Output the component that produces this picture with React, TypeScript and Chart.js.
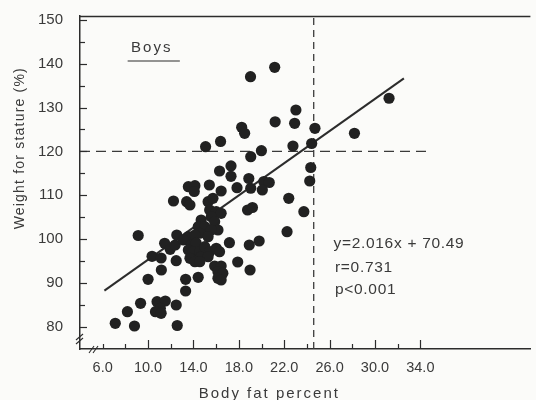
import React, { useEffect, useRef } from 'react';
import { Chart, registerables } from 'chart.js';

Chart.register(...registerables);

// ---- data ----
const bodyFat = [
  7.11, 8.18, 8.8, 9.34, 9.13, 10.0, 10.35, 11.15, 11.17, 11.46,
  11.95, 12.39, 12.53, 12.48, 10.79, 11.52, 11.08, 10.65, 11.15, 12.48,
  12.57, 12.24, 13.31, 13.31, 14.42, 13.4, 13.69, 13.55, 14.13, 14.07,
  15.4, 16.44, 17.84, 19.05, 15.29, 15.72, 15.43, 16.01, 16.44, 18.77,
  19.2, 14.68, 14.42, 15.0, 14.56, 15.57, 15.87, 16.16, 15.57, 15.29,
  13.55, 14.13, 13.11, 13.81, 14.24, 13.55, 13.98, 14.56, 14.68, 15.0,
  15.43, 15.29, 16.01, 16.3, 17.17, 18.92, 19.79, 13.69, 14.13, 14.56,
  15.87, 16.44, 16.16, 16.59, 16.16, 16.44, 17.9, 18.99, 15.07, 16.39,
  17.31, 16.3, 17.31, 18.88, 19.05, 18.25, 18.51, 19.03, 21.16, 21.2,
  19.99, 20.2, 20.68, 20.07, 22.4, 23.73, 22.25, 23.03, 22.92, 24.71,
  28.19, 31.24, 22.77, 24.42, 24.34, 24.25,
];
const weightForStature = [
  80.85, 83.5, 80.24, 85.41, 100.85, 90.88, 96.12, 95.73, 93.0, 99.08,
  97.71, 98.69, 100.97, 95.11, 85.77, 85.93, 84.27, 83.5, 83.13, 85.02,
  80.35, 108.71, 90.88, 88.21, 91.33, 108.55, 107.8, 111.97, 112.2, 110.88,
  112.36, 110.99, 111.74, 111.61, 108.55, 109.33, 106.66, 106.28, 105.91, 106.66,
  107.23, 104.38, 102.86, 102.86, 101.36, 105.14, 104.0, 102.11, 102.11, 100.58,
  100.58, 100.97, 99.83, 98.69, 99.15, 97.55, 97.16, 97.16, 96.03, 98.3,
  97.16, 96.03, 97.94, 97.16, 99.21, 98.69, 99.6, 95.66, 94.89, 94.89,
  93.91, 93.91, 92.61, 92.24, 91.1, 90.72, 94.82, 93.0, 121.08, 122.27,
  116.69, 115.55, 114.34, 113.84, 118.8, 125.5, 124.13, 137.03, 139.17, 126.75,
  120.17, 113.15, 112.93, 111.22, 109.33, 106.28, 101.72, 129.44, 126.41, 125.27,
  124.13, 132.11, 121.24, 121.81, 116.34, 113.27,
];
const fitLineFat = [6.15, 32.55];
const fitLineWeight = [88.3, 136.65];
const cutoffWeight = 120;
const cutoffWeightSpan = [4, 35.0];
const cutoffFat = 24.6;
const xTickValues = [6, 10, 14, 18, 22, 26, 30, 34];
const yTickValues = [80, 90, 100, 110, 120, 130, 140, 150];
const xTitle = 'Body fat percent';
const yTitle = 'Weight for stature (%)';
const groupLabel = 'Boys';
const statsLines = ['y=2.016x + 70.49', 'r=0.731', 'p<0.001'];

const X_MIN = 4;
const X_MAX = 43.7;
const Y_MIN = 75;
const Y_MAX = 150.85;

const INK = '#2c2c2c';
const TEXT = '#3a3a3a';
const FONT = 'Liberation Sans';

const decorPlugin = {
  id: 'decor',
  afterDraw(chart: any) {
    const { ctx, chartArea: a, scales } = chart;
    const x = scales.x;
    const y = scales.y;
    ctx.save();
    ctx.strokeStyle = INK;
    ctx.lineWidth = 1.4;
    // top frame line
    ctx.beginPath();
    ctx.moveTo(a.left, a.top + 0.5);
    ctx.lineTo(a.right, a.top + 0.5);
    ctx.stroke();
    // inward y ticks
    ctx.lineWidth = 1.2;
    for (let v = 80; v <= 150; v += 5) {
      const py = Math.round(y.getPixelForValue(v)) + 0.5;
      const len = v % 10 === 0 ? 7 : 5;
      ctx.beginPath();
      ctx.moveTo(a.left, py);
      ctx.lineTo(a.left + len, py);
      ctx.stroke();
    }
    // inward x ticks
    for (let v = 6; v <= 34; v += 2) {
      const px = Math.round(x.getPixelForValue(v)) + 0.5;
      const len = xTickValues.includes(v) && v !== 6 ? 9 : 5;
      ctx.beginPath();
      ctx.moveTo(px, a.bottom);
      ctx.lineTo(px, a.bottom - len);
      ctx.stroke();
    }
    // axis break marks
    ctx.lineWidth = 1.1;
    const yb = a.bottom - 12;
    [0, 4].forEach((d) => {
      ctx.beginPath();
      ctx.moveTo(a.left - 4, yb + 3 + d);
      ctx.lineTo(a.left + 3, yb - 3 + d);
      ctx.stroke();
    });
    const xb = a.left + 9;
    [0, 4].forEach((d) => {
      ctx.beginPath();
      ctx.moveTo(xb + d, a.bottom + 4);
      ctx.lineTo(xb + 5 + d, a.bottom - 3);
      ctx.stroke();
    });

    // texts
    ctx.fillStyle = TEXT;
    ctx.textBaseline = 'alphabetic';
    // group label
    ctx.font = `15px ${FONT}`;
    (ctx as any).letterSpacing = '2px';
    ctx.textAlign = 'center';
    const gx = x.getPixelForValue(10.24);
    const gy = y.getPixelForValue(143.8);
    ctx.fillText(groupLabel, gx + 1, gy + 5.5);
    ctx.lineWidth = 1.2;
    ctx.beginPath();
    ctx.moveTo(x.getPixelForValue(8.2), y.getPixelForValue(140.6));
    ctx.lineTo(x.getPixelForValue(12.8), y.getPixelForValue(140.6));
    ctx.stroke();
    // x title
    ctx.fillText(xTitle, x.getPixelForValue(20.6) + 1, a.bottom + 48.5);
    // y title
    ctx.save();
    ctx.font = `14px ${FONT}`;
    (ctx as any).letterSpacing = '1.2px';
    ctx.translate(23.5, y.getPixelForValue(120.6));
    ctx.rotate(-Math.PI / 2);
    ctx.fillText(yTitle, 0.6, 0);
    ctx.restore();
    // statistics
    ctx.font = `15.5px ${FONT}`;
    (ctx as any).letterSpacing = '0.7px';
    ctx.textAlign = 'left';
    const sx = x.getPixelForValue(26.34);
    const baselines = [99.37, 93.9, 88.9];
    statsLines.forEach((t, i) => {
      ctx.fillText(t, sx + (i === 0 ? 0 : 1.5), y.getPixelForValue(baselines[i]) + 6);
    });
    ctx.restore();
  },
};

export default function App() {
  const canvasRef = useRef<HTMLCanvasElement | null>(null);

  useEffect(() => {
    if (!canvasRef.current) return;
    const points = bodyFat.map((v, i) => ({ x: v, y: weightForStature[i] }));
    const fit = fitLineFat.map((v, i) => ({ x: v, y: fitLineWeight[i] }));
    const hLine = cutoffWeightSpan.map((v) => ({ x: v, y: cutoffWeight }));
    const vLine = [
      { x: cutoffFat, y: Y_MIN },
      { x: cutoffFat, y: Y_MAX },
    ];

    const chart = new Chart(canvasRef.current, {
      type: 'scatter',
      data: {
        datasets: [
          {
            label: 'Boys',
            data: points,
            pointRadius: 5.6,
            pointBackgroundColor: '#212121',
            pointBorderWidth: 0,
            showLine: false,
          },
          {
            label: 'fit',
            data: fit,
            showLine: true,
            pointRadius: 0,
            borderColor: INK,
            borderWidth: 2,
          },
          {
            label: 'cutoff weight',
            data: hLine,
            showLine: true,
            pointRadius: 0,
            borderColor: '#3a3a3a',
            borderWidth: 1.3,
            borderDash: [10, 6],
          },
          {
            label: 'cutoff fat',
            data: vLine,
            showLine: true,
            pointRadius: 0,
            borderColor: '#3a3a3a',
            borderWidth: 1.3,
            borderDash: [7, 5],
          },
        ],
      },
      options: {
        animation: false,
        responsive: false,
        layout: { padding: { top: 16, left: 0, right: 0, bottom: 0 } },
        plugins: {
          legend: { display: false },
          tooltip: { enabled: false },
        },
        scales: {
          x: {
            type: 'linear',
            min: X_MIN,
            max: X_MAX,
            afterBuildTicks: (s: any) => {
              s.ticks = xTickValues.map((v) => ({ value: v }));
            },
            afterFit: (s: any) => {
              s.height = 51;
              s.paddingLeft = 0;
              s.paddingRight = 0;
            },
            grid: { display: false, drawTicks: false },
            border: { display: true, color: INK, width: 1.5 },
            ticks: {
              font: { family: FONT, size: 14.5 },
              color: TEXT,
              padding: 10,
              maxRotation: 0,
              autoSkip: false,
              callback: (v: any) => Number(v).toFixed(1),
            },
          },
          y: {
            type: 'linear',
            min: Y_MIN,
            max: Y_MAX,
            afterBuildTicks: (s: any) => {
              s.ticks = yTickValues.map((v) => ({ value: v }));
            },
            afterFit: (s: any) => {
              s.width = 80;
              s.paddingTop = 0;
              s.paddingBottom = 0;
            },
            grid: { display: false, drawTicks: false },
            border: { display: true, color: INK, width: 1.5 },
            ticks: {
              font: { family: FONT, size: 15 },
              color: TEXT,
              padding: 17,
              autoSkip: false,
              callback: (v: any) => String(v),
            },
          },
        },
      },
      plugins: [decorPlugin],
    });

    return () => chart.destroy();
  }, []);

  return (
    <div
      style={{
        position: 'fixed',
        left: 0,
        top: 0,
        width: 536,
        height: 400,
        background: '#fbfbf9',
      }}
    >
      <canvas ref={canvasRef} width={536} height={400} />
    </div>
  );
}
